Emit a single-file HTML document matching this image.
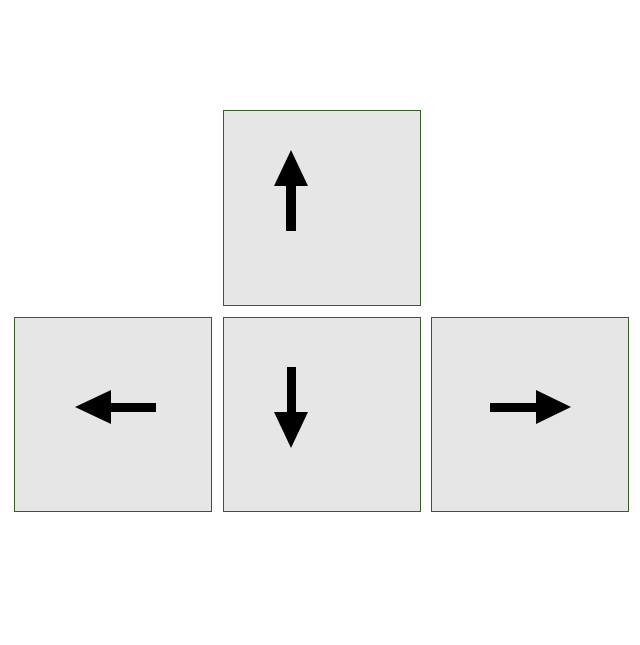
<!DOCTYPE html>
<html><head><style>body{margin:0;background:#fff}</style></head><body>
<svg width="640" height="640" xmlns="http://www.w3.org/2000/svg">
<g fill="#e6e6e6" stroke="#3a5a2a" stroke-width="1">
<rect x="223.5" y="110.5" width="197" height="195"/>
<rect x="14.5" y="317.5" width="197" height="194"/>
<rect x="223.5" y="317.5" width="197" height="194"/>
<rect x="431.5" y="317.5" width="197" height="194"/>
</g>
<g fill="#000">
<polygon points="291,150 308,186 296,186 296,231 286,231 286,186 274,186"/>
<polygon points="75,407 111,390 111,403 156,403 156,412 111,412 111,424"/>
<polygon points="291,448 308,412 296,412 296,367 287,367 287,412 274,412"/>
<polygon points="571,407 536,390 536,403 490,403 490,412 536,412 536,424"/>
</g>
</svg>
</body></html>
